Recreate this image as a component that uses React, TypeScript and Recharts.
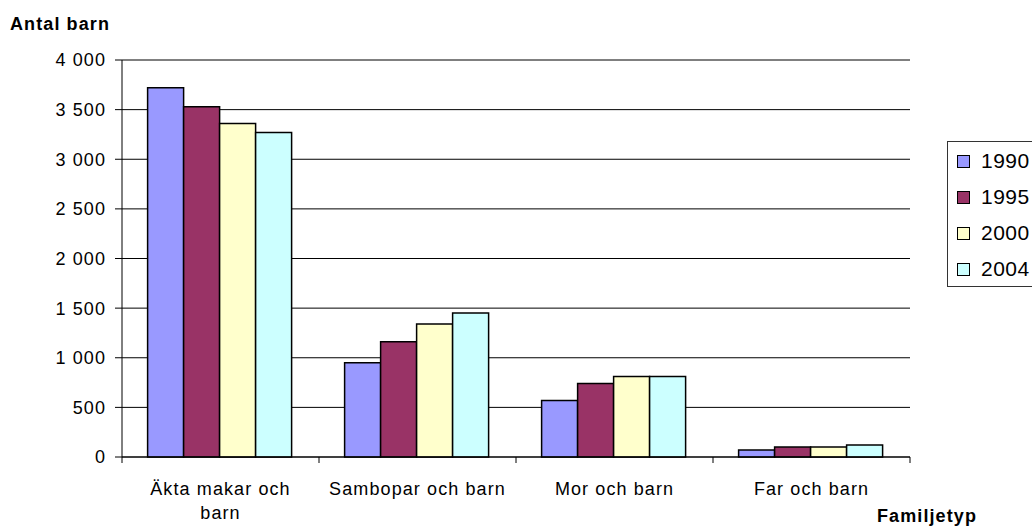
import React from "react";
import { BarChart, Bar, XAxis, YAxis, CartesianGrid } from "recharts";

const categories = [
  "Äkta makar och barn",
  "Sambopar och barn",
  "Mor och barn",
  "Far och barn",
];
const years = ["1990", "1995", "2000", "2004"];
const values1990 = [3720, 950, 570, 70];
const values1995 = [3530, 1160, 740, 100];
const values2000 = [3360, 1340, 810, 100];
const values2004 = [3270, 1450, 810, 120];
const yTicks = [0, 500, 1000, 1500, 2000, 2500, 3000, 3500, 4000];

const colors = ["#9999FF", "#993366", "#FFFFCC", "#CCFFFF"];
const seriesValues = [values1990, values1995, values2000, values2004];

const data = categories.map((name, i) => {
  const row: Record<string, string | number> = { name };
  years.forEach((y, j) => {
    row[y] = seriesValues[j][i];
  });
  return row;
});

const font = "'Liberation Sans', Arial, sans-serif";
const spacing = 1.1;

const fmt = (v: number) =>
  String(v).replace(/\B(?=(\d{3})+(?!\d))/g, " ");

const wrapLabel = (s: string) => {
  if (s.length <= 18) return [s];
  const words = s.split(" ");
  return [words.slice(0, -1).join(" "), words[words.length - 1]];
};

function XTick(props: any) {
  const { x, y, payload, index } = props;
  const half = payload && payload.offset ? payload.offset : 98.5;
  const lines = wrapLabel(String(payload.value));
  return (
    <g>
      <line x1={x - half} y1={y} x2={x - half} y2={y + 6} stroke="#000" />
      {index === categories.length - 1 && (
        <line x1={x + half} y1={y} x2={x + half} y2={y + 6} stroke="#000" />
      )}
      <text
        x={x}
        y={y + 38}
        textAnchor="middle"
        fill="#000"
        fontSize={18}
        letterSpacing={spacing}
        fontFamily={font}
      >
        {lines.map((l, i) => (
          <tspan key={i} x={x} dy={i === 0 ? 0 : 24}>
            {l}
          </tspan>
        ))}
      </text>
    </g>
  );
}

function LegendBox() {
  return (
    <div
      style={{
        position: "absolute",
        left: 947,
        top: 141,
        border: "1px solid #333",
        background: "#fff",
        width: 110,
        height: 146,
        boxSizing: "border-box",
        paddingTop: 1,
        fontFamily: font,
      }}
    >
      {years.map((y, i) => (
        <div
          key={y}
          style={{
            display: "flex",
            alignItems: "center",
            height: 36,
            paddingLeft: 9,
          }}
        >
          <span
            style={{
              width: 11,
              height: 11,
              background: colors[i],
              border: "1px solid #000",
              marginRight: 11,
              display: "inline-block",
              flexShrink: 0,
            }}
          />
          <span style={{ fontSize: 21, color: "#000", letterSpacing: 0.5 }}>
            {y}
          </span>
        </div>
      ))}
    </div>
  );
}

export default function App() {
  const titleStyle: React.CSSProperties = {
    position: "absolute",
    fontFamily: font,
    fontSize: 18,
    fontWeight: "bold",
    letterSpacing: spacing,
    color: "#000",
    zIndex: 2,
  };
  return (
    <div
      style={{
        position: "absolute",
        left: 0,
        top: 0,
        width: 1032,
        height: 528,
        overflow: "hidden",
        background: "#fff",
      }}
    >
      <div style={{ ...titleStyle, left: 10, top: 14 }}>Antal barn</div>
      <div style={{ ...titleStyle, left: 877, top: 506 }}>Familjetyp</div>
      <BarChart
        width={1032}
        height={528}
        data={data}
        margin={{ top: 60, right: 122, bottom: 0, left: 0 }}
        barCategoryGap="13%"
        barGap={0}
      >
        <CartesianGrid vertical={false} stroke="#000" strokeDasharray="" />
        <XAxis
          dataKey="name"
          axisLine={{ stroke: "#000" }}
          tickLine={false}
          tickSize={0}
          tickMargin={0}
          tick={<XTick />}
          interval={0}
          height={71}
        />
        <YAxis
          domain={[0, 4000]}
          ticks={yTicks}
          tickFormatter={fmt}
          width={122}
          axisLine={{ stroke: "#000" }}
          tickLine={{ stroke: "#000" }}
          tickSize={7}
          tickMargin={9}
          tick={{
            fill: "#000",
            fontSize: 18,
            fontFamily: font,
            letterSpacing: spacing,
          }}
          interval={0}
        />
        <YAxis
          yAxisId="right"
          orientation="right"
          domain={[0, 4000]}
          width={0}
          tick={false}
          tickLine={false}
          axisLine={{ stroke: "#888" }}
        />
        {years.map((y, i) => (
          <Bar
            key={y}
            dataKey={y}
            fill={colors[i]}
            stroke="#000"
            strokeWidth={1.5}
            isAnimationActive={false}
          />
        ))}
      </BarChart>
      <LegendBox />
    </div>
  );
}
